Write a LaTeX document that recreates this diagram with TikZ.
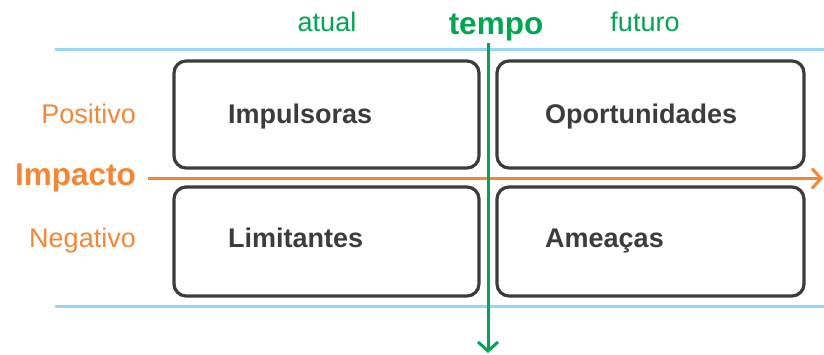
\documentclass[tikz,border=0pt]{standalone}
\usepackage{fontspec}
\setmainfont{Liberation Sans}
\usetikzlibrary{arrows.meta}
\definecolor{cgreen}{RGB}{0,166,81}
\definecolor{corange}{RGB}{245,134,52}
\definecolor{cblue}{RGB}{150,215,245}
\definecolor{cdark}{RGB}{60,60,60}
\tikzset{
  quad/.style={draw=cdark, line width=3.2pt, rounded corners=12pt, inner sep=0pt},
  qlabel/.style={anchor=base west, inner sep=0pt, text=cdark, font=\fontsize{27}{30}\selectfont\bfseries},
  axlabel/.style={inner sep=0pt, font=\fontsize{27}{30}\selectfont},
  axtitle/.style={inner sep=0pt, font=\fontsize{31.5}{34}\selectfont\bfseries},
  guide/.style={draw=cblue, line width=3pt},
}
\begin{document}
\begin{tikzpicture}[x=1pt,y=-1pt]
\useasboundingbox (0,0) rectangle (824,355);
% guide lines
\coordinate (gtl) at (55,49.5);
\coordinate (gtr) at (824,49.5);
\coordinate (gbl) at (55,306);
\coordinate (gbr) at (824,306);
\draw[guide] (gtl) -- (gtr);
\draw[guide] (gbl) -- (gbr);
% boxes
\node[quad, minimum width=305pt, minimum height=107pt] (b1) at (326.5,114.5) {};
\node[quad, minimum width=307pt, minimum height=107pt] (b2) at (650.5,114.5) {};
\node[quad, minimum width=305pt, minimum height=109pt] (b3) at (326.5,241.5) {};
\node[quad, minimum width=307pt, minimum height=109pt] (b4) at (650.5,241.5) {};
\node[qlabel] (l1) at (228,124) {Impulsoras};
\node[qlabel] (l2) at (545,124) {Oportunidades};
\node[qlabel] (l3) at (228,248) {Limitantes};
\node[qlabel] (l4) at (545,248) {Ameaças};
% impact axis
\node[axtitle, text=corange, anchor=base east] (imp) at (136,186) {Impacto};
\node[axlabel, text=corange, anchor=base east] (pos) at (136,124) {Positivo};
\node[axlabel, text=corange, anchor=base east] (neg) at (136,248) {Negativo};
\coordinate (os) at (148,178.5);
\coordinate (oe) at (823,178.5);
\draw[corange, line width=3pt, -{Straight Barb[length=9pt,width=20pt,line width=3pt]}] (os) -- (oe);
% time axis
\node[axtitle, text=cgreen, anchor=base] (tem) at (496,35) {tempo};
\node[axlabel, text=cgreen, anchor=base] (atu) at (327,32) {atual};
\node[axlabel, text=cgreen, anchor=base] (fut) at (645,32) {futuro};
\coordinate (gs) at (488,43);
\coordinate (ge) at (488,353);
\draw[cgreen, line width=3pt, -{Straight Barb[length=9pt,width=20pt,line width=3pt]}] (gs) -- (ge);
\end{tikzpicture}
\end{document}
